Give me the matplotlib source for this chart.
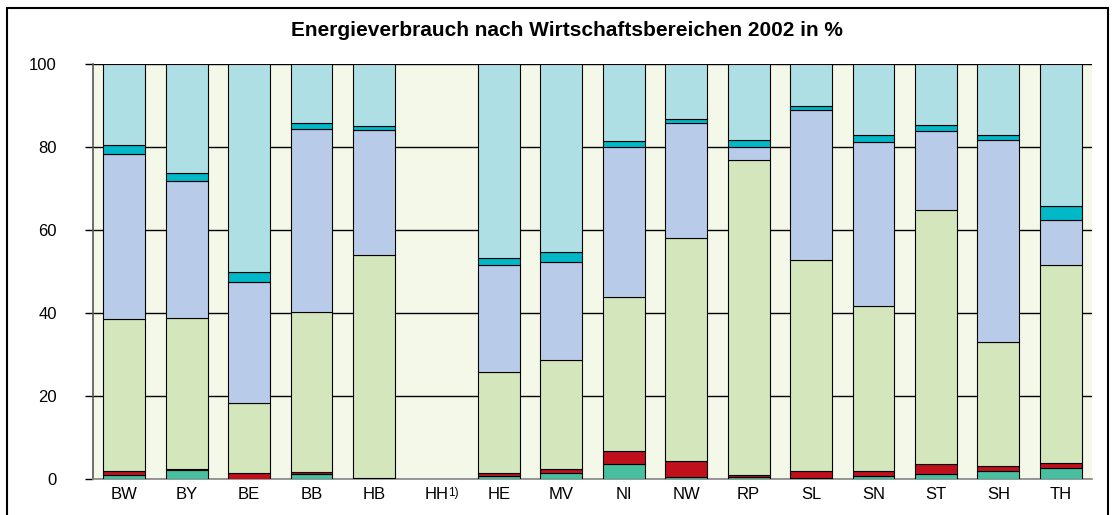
import matplotlib.pyplot as plt
import matplotlib.patches as mpatches
import numpy as np

plt.rcParams['font.family'] = ['Liberation Sans', 'DejaVu Sans']

laender = ['BW', 'BY', 'BE', 'BB', 'HB', 'HH', 'HE', 'MV',
           'NI', 'NW', 'RP', 'SL', 'SN', 'ST', 'SH', 'TH']

# Anteile je Segment (von unten nach oben), in %
seg_teal  = [1.0, 2.2, 0.1, 1.3, 0.0, 0, 0.7, 1.4, 3.5, 0.5, 0.6, 0.2, 0.8, 1.2, 1.9, 2.6]
seg_red   = [1.0, 0.3, 1.4, 0.3, 0.2, 0, 0.7, 0.9, 3.3, 3.8, 0.4, 1.7, 1.1, 2.3, 1.2, 1.3]
seg_green = [36.5, 36.4, 16.9, 38.6, 53.8, 0, 24.3, 26.4, 37.0, 53.8, 75.9, 50.9, 39.9, 61.3, 30.0, 47.6]
seg_blue  = [39.8, 33.0, 29.0, 44.2, 30.0, 0, 25.8, 23.6, 36.1, 27.8, 3.1, 36.2, 39.3, 19.1, 48.5, 10.9]
seg_cyan  = [2.1, 1.9, 2.4, 1.4, 1.0, 0, 1.8, 2.3, 1.5, 0.9, 1.6, 0.9, 1.7, 1.4, 1.4, 3.4]
seg_top   = [19.6, 26.2, 50.2, 14.2, 15.0, 0, 46.7, 45.4, 18.6, 13.2, 18.4, 10.1, 17.2, 14.7, 17.0, 34.2]

segmente = [seg_teal, seg_red, seg_green, seg_blue, seg_cyan, seg_top]
farben = ['#48c0a0', '#c0101c', '#d4e6bc', '#b8ccea', '#00b8c8', '#addfe5']

fig = plt.figure(figsize=(11.16, 5.15), dpi=100)
ax = fig.add_axes([0.0833, 0.0699, 0.8952, 0.8058])
ax.set_facecolor('#f4f8e8')

x = np.arange(len(laender))
unten = np.zeros(len(laender))
for werte, farbe in zip(segmente, farben):
    werte = np.array(werte, dtype=float)
    mask = werte > 0
    ax.bar(x[mask], werte[mask], width=0.67, bottom=unten[mask],
           color=farbe, edgecolor='black', linewidth=0.8, zorder=3)
    unten += werte

ax.set_xlim(-0.5, len(laender) - 0.5)
ax.set_ylim(0, 100)
ax.set_yticks([0, 20, 40, 60, 80, 100])
ax.yaxis.grid(True, color='black', linewidth=1.0, zorder=1)
ax.set_axisbelow(True)

ax.set_xticks(x)
ax.set_xticklabels(laender)
ax.tick_params(axis='x', length=0, pad=6, labelsize=12)
ax.tick_params(axis='y', length=6, width=1, direction='out', labelsize=12, pad=20)
# Fußnote bei HH (hochgestellt)
ax.annotate('1)', xy=(5, 0), xycoords=('data', 'axes fraction'),
            xytext=(8.6, -5.5), textcoords='offset points',
            fontsize=8.5, va='top', ha='left')

for s in ['top', 'right']:
    ax.spines[s].set_visible(False)
ax.spines['left'].set_color('#555555')
ax.spines['left'].set_linewidth(1.2)
ax.spines['bottom'].set_color('#888888')
ax.spines['bottom'].set_linewidth(1.2)

fig.text(0.508, 1 - 31 / 515, 'Energieverbrauch nach Wirtschaftsbereichen 2002 in %',
         ha='center', va='center', fontsize=15, fontweight='bold')

# Rahmen um die Grafik
rahmen = mpatches.Rectangle((7 / 1116, -0.05), 1101 / 1116, 1.05 - 8 / 515,
                            transform=fig.transFigure, fill=False,
                            edgecolor='black', linewidth=1.5)
fig.patches.append(rahmen)

fig.savefig('out.png', dpi=100)
